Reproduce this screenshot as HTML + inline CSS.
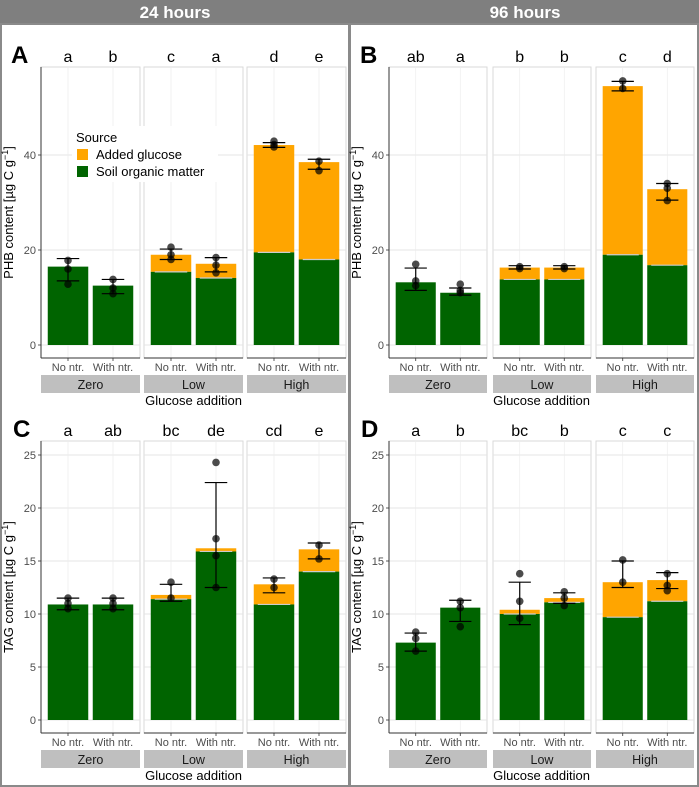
<!DOCTYPE html>
<html><head><meta charset="utf-8"><style>
body{margin:0;background:#fff;font-family:"Liberation Sans",sans-serif}
svg{display:block}
</style></head><body>
<svg id="fig" width="699" height="787" viewBox="0 0 699 787" xmlns="http://www.w3.org/2000/svg" font-family="Liberation Sans, sans-serif">
<rect x="0" y="0" width="699" height="787" fill="#fff"/>
<rect x="0" y="0" width="699" height="24" fill="#7f7f7f"/>
<text x="175" y="18" text-anchor="middle" fill="#fff" font-size="17" font-weight="bold">24 hours</text>
<text x="525" y="18" text-anchor="middle" fill="#fff" font-size="17" font-weight="bold">96 hours</text>
<rect x="1" y="24" width="348" height="762" fill="none" stroke="#8a8a8a" stroke-width="2"/>
<rect x="350" y="24" width="348" height="762" fill="none" stroke="#8a8a8a" stroke-width="2"/>
<g id="panels"></g>
</svg>
<script>
const groups = ["Zero","Low","High"];
const treatments = ["No ntr.","With ntr."];
// Panel A (PHB 24h)
const aSom   = [16.5,12.5,15.4,14.1,19.5,18.0];
const aTotal = [16.5,12.5,19.0,17.1,42.1,38.5];
const aLo    = [13.5,10.8,18.0,15.4,41.6,37.0];
const aHi    = [18.2,13.8,20.2,18.4,42.6,39.1];
const aPts   = [[17.8,16,12.8],[13.8,12,10.8],[20.6,19,18],[18.4,16.8,15.2],[42.9,42.2,41.7],[38.7,36.7]];
const aLetters = ["a","b","c","a","d","e"];
// Panel B (PHB 96h)
const bSom   = [13.2,11.0,13.8,13.8,19.0,16.8];
const bTotal = [13.2,11.0,16.3,16.3,54.5,32.8];
const bLo    = [11.5,10.5,16.0,16.0,53.5,30.5];
const bHi    = [16.2,12.0,16.7,16.7,55.5,34.0];
const bPts   = [[17,13.5,12.5],[12.8,11.5,11],[16.5,16.1],[16.5,16.1],[55.6,54],[34,33,30.4]];
const bLetters = ["ab","a","b","b","c","d"];
// Panel C (TAG 24h)
const cSom   = [10.9,10.9,11.4,15.9,10.9,14.0];
const cTotal = [10.9,10.9,11.8,16.2,12.8,16.1];
const cLo    = [10.4,10.4,11.2,12.5,12.0,15.2];
const cHi    = [11.5,11.5,12.8,22.4,13.4,16.7];
const cPts   = [[11.5,11,10.5],[11.5,11,10.5],[13,11.5],[24.3,17.1,15.5,12.5],[13.3,12.5],[16.5,15.2]];
const cLetters = ["a","ab","bc","de","cd","e"];
// Panel D (TAG 96h)
const dSom   = [7.3,10.6,10.0,11.1,9.7,11.2];
const dTotal = [7.3,10.6,10.4,11.5,13.0,13.2];
const dLo    = [6.5,9.3,9.0,11.0,12.5,12.4];
const dHi    = [8.2,11.3,13.0,12.0,15.0,13.9];
const dPts   = [[8.3,7.7,6.5],[11.2,10.6,8.8],[13.8,11.2,9.6],[12.1,11.5,10.8],[15.1,13],[13.8,12.7,12.2]];
const dLetters = ["a","b","bc","b","c","c"];
const phbTicks = [0,20,40];
const tagTicks = [0,5,10,15,20,25];

const NS="http://www.w3.org/2000/svg";
const root=document.getElementById('panels');
function mk(tag,attrs,parent){const e=document.createElementNS(NS,tag);for(const k in attrs)e.setAttribute(k,attrs[k]);(parent||root).appendChild(e);return e;}

function panel(p){
  const g=mk('g',{});
  
  
  const yS=v=>p.y0-(v)*p.k;
  const fw=p.fw;
  const unit=fw/2.2;
  // panel letter
  const L=mk('text',{x:p.letterX,y:p.top-4,'font-size':24,'font-weight':'bold',fill:'#000'},g);L.textContent=p.id;
  
  
  // y ticks labels
  p.ticks.forEach(t=>{
    const tx=mk('text',{x:p.fx[0]-5,y:yS(t)+4,'text-anchor':'end','font-size':11,fill:'#4d4d4d'},g);tx.textContent=t;
    
    
    mk('line',{x1:p.fx[0]-3,x2:p.fx[0],y1:yS(t),y2:yS(t),stroke:'#333','stroke-width':0.8},g);
  });
  // y title
  const yt=mk('text',{x:0,y:0,transform:`translate(${p.fx[0]-28},${(p.top+p.bot)/2}) rotate(-90)`,'text-anchor':'middle','font-size':13,fill:'#000'},g);
  yt.innerHTML=p.ytitle+' content [µg C g<tspan dy="-5" font-size="9">−1</tspan><tspan dy="5">]</tspan>';
  
  
  p.fx.forEach((fx,gi)=>{
    const fg=mk('g',{},g);
    
    
    mk('rect',{x:fx,y:p.top,width:fw,height:p.bot-p.top,fill:'#fff',stroke:'#d9d9d9','stroke-width':1},fg);
    p.ticks.forEach(t=>mk('line',{x1:fx,x2:fx+fw,y1:yS(t),y2:yS(t),stroke:'#e5e5e5','stroke-width':1},fg));
    for(let c=0;c<2;c++){
      const cx=fx+(c+1-0.4)*unit;
      mk('line',{x1:cx,x2:cx,y1:p.top,y2:p.bot,stroke:'#ececec','stroke-width':0.7},fg);
    }
    for(let c=0;c<2;c++){
      const i=gi*2+c;
      const cx=fx+(c+1-0.4)*unit, bw=0.9*unit;
      const tot=p.total[i], som=p.som[i];
      if(tot>som){
        const ob=mk('rect',{x:cx-bw/2,y:yS(tot),width:bw,height:(tot-som)*p.k,fill:'#FFA500'},fg);
        
        
      }
      const gb=mk('rect',{x:cx-bw/2,y:yS(som),width:bw,height:som*p.k,fill:'#006400'},fg);
      
      
      if(tot>som){
        mk('line',{x1:cx-bw/2+4,x2:cx+bw/2-4,y1:yS(som),y2:yS(som),stroke:'#cccccc','stroke-width':1.2},fg);
      }
      const cw=0.25*unit;
      mk('line',{x1:cx,x2:cx,y1:yS(p.lo[i]),y2:yS(p.hi[i]),stroke:'#000','stroke-width':1.2},fg);
      mk('line',{x1:cx-cw,x2:cx+cw,y1:yS(p.lo[i]),y2:yS(p.lo[i]),stroke:'#000','stroke-width':1.2},fg);
      mk('line',{x1:cx-cw,x2:cx+cw,y1:yS(p.hi[i]),y2:yS(p.hi[i]),stroke:'#000','stroke-width':1.2},fg);
      p.pts[i].forEach(v=>{
        const pt=mk('circle',{cx:cx,cy:yS(v),r:3.8,fill:'#000','fill-opacity':0.7},fg);
        
        
      });
      const lt=mk('text',{x:cx,y:p.top-5,'text-anchor':'middle','font-size':16,fill:'#000'},fg);lt.textContent=p.letters[i];
      
      
      mk('line',{x1:cx,x2:cx,y1:p.bot,y2:p.bot+3,stroke:'#333','stroke-width':0.8},fg);
      const xl=mk('text',{x:cx,y:p.bot+13,'text-anchor':'middle','font-size':11,fill:'#4d4d4d'},fg);xl.textContent=treatments[c];
      
      
    }
    mk('line',{x1:fx,x2:fx+fw,y1:p.bot,y2:p.bot,stroke:'#333','stroke-width':1},fg);
    const sr=mk('rect',{x:fx,y:p.bot+17,width:fw,height:18,fill:'#bfbfbf'},fg);
    
    
    const st=mk('text',{x:fx+fw/2,y:p.bot+31,'text-anchor':'middle','font-size':12.5,fill:'#1a1a1a'},fg);st.textContent=groups[gi];
    
    
  });
  mk('line',{x1:p.fx[0],x2:p.fx[0],y1:p.top,y2:p.bot,stroke:'#333','stroke-width':1},g);
  const xt=mk('text',{x:(p.fx[0]+p.fx[2]+fw)/2,y:p.bot+47,'text-anchor':'middle','font-size':13,fill:'#000'},g);xt.textContent='Glucose addition';
  
  
}
const fxL=[41,144,247], fxR=[389,493,596];
panel({id:'A',fx:fxL,fw:99,top:67,bot:358,y0:345,k:4.75,ticks:phbTicks,ytitle:'PHB',som:aSom,total:aTotal,lo:aLo,hi:aHi,pts:aPts,letters:aLetters,letterX:11});
panel({id:'B',fx:fxR,fw:98,top:67,bot:358,y0:345,k:4.75,ticks:phbTicks,ytitle:'PHB',som:bSom,total:bTotal,lo:bLo,hi:bHi,pts:bPts,letters:bLetters,letterX:360});
panel({id:'C',fx:fxL,fw:99,top:441,bot:733,y0:720,k:10.6,ticks:tagTicks,ytitle:'TAG',som:cSom,total:cTotal,lo:cLo,hi:cHi,pts:cPts,letters:cLetters,letterX:13});
panel({id:'D',fx:fxR,fw:98,top:441,bot:733,y0:720,k:10.6,ticks:tagTicks,ytitle:'TAG',som:dSom,total:dTotal,lo:dLo,hi:dHi,pts:dPts,letters:dLetters,letterX:361});
// legend
const lg=mk('g',{});


mk('rect',{x:72,y:126,width:146,height:56,fill:'#fff'},lg);
const lt=mk('text',{x:76,y:142,'font-size':13,fill:'#000'},lg);lt.textContent='Source';


const l1=mk('rect',{x:77,y:149,width:11,height:11,fill:'#FFA500'},lg);


const t1=mk('text',{x:96,y:159,'font-size':13,fill:'#000'},lg);t1.textContent='Added glucose';


const l2=mk('rect',{x:77,y:166,width:11,height:11,fill:'#006400'},lg);


const t2=mk('text',{x:96,y:176,'font-size':13,fill:'#000'},lg);t2.textContent='Soil organic matter';


</script>
</body></html>
